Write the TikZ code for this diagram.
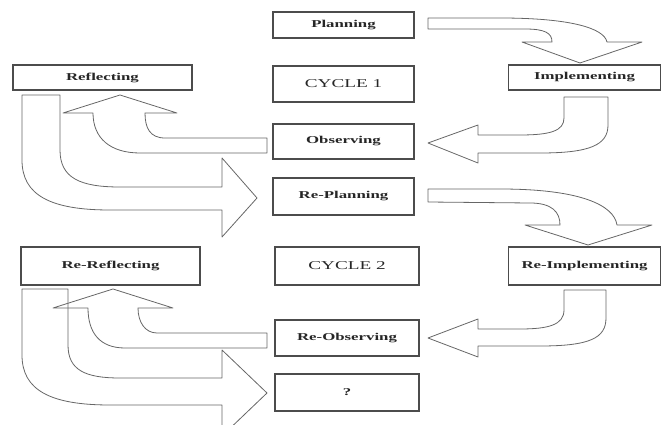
\documentclass[tikz,border=0pt]{standalone}
\usepackage{fontspec}
\setmainfont{Liberation Serif}
\newcommand{\wide}[1]{\scalebox{1.6}[1]{#1}}

\begin{document}
\begin{tikzpicture}[x=1pt, y=-1pt,
    stage/.style={draw=black!70, line width=1.1pt, inner sep=0pt, outer sep=0pt,
      font=\bfseries\fontsize{10.5}{12}\selectfont, text=black!85},
    cyclebox/.style={stage, font=\fontsize{12}{14}\selectfont},
    bigarrow/.style={draw=black!60, line width=0.8pt, line join=round}]
  \useasboundingbox (0,0) rectangle (662,425);

  % Cycle 1
  \node[stage, minimum width=141pt, minimum height=26pt] (plan) at (343.5,25) {\wide{Planning}};
  \node[cyclebox, minimum width=141pt, minimum height=36pt] (cyc1) at (343.5,84) {\wide{CYCLE 1}};
  \node[stage, minimum width=141pt, minimum height=35pt] (obs) at (343.5,141.5) {\wide{Observing}};
  \node[stage, minimum width=179pt, minimum height=25pt] (refl) at (102.5,77.5) {\wide{Reflecting}};
  \node[stage, minimum width=152pt, minimum height=25pt] (impl) at (584.5,77.5) {\wide{Implementing}};

  % Cycle 2
  \node[stage, minimum width=141pt, minimum height=37pt] (replan) at (343.5,196.5) {\wide{Re-Planning}};
  \node[cyclebox, minimum width=144pt, minimum height=38pt] (cyc2) at (347,266) {\wide{CYCLE 2}};
  \node[stage, minimum width=144pt, minimum height=36pt] (reobs) at (347,338) {\wide{Re-Observing}};
  \node[stage, minimum width=179pt, minimum height=38pt] (rerefl) at (110.5,266) {\wide{Re-Reflecting}};
  \node[stage, minimum width=152pt, minimum height=38pt] (reimpl) at (584.5,266) {\wide{Re-Implementing}};
  \node[stage, minimum width=144pt, minimum height=37pt] (next) at (347,392.5) {\wide{?}};

  % Block arrows, cycle 1
  \draw[bigarrow] (428,18) -- (500,18) .. controls (570,18) and (604,28) .. (607,42)
    -- (642,42) -- (580,63) -- (522,42) -- (552,42)
    .. controls (552,33) and (545,29) .. (525,29) -- (428,29) -- cycle;
  \draw[bigarrow] (564,97) -- (564,118) .. controls (564,131) and (550,135) .. (520,135)
    -- (478,135) -- (478,125) -- (428,143) -- (478,163) -- (478,153) -- (540,153)
    .. controls (590,153) and (608,145) .. (608,125) -- (608,97) -- cycle;
  \draw[bigarrow] (267,138) -- (165,138) .. controls (150,138) and (145,128) .. (145,113)
    -- (177,113) -- (120,95) -- (63,113) -- (93,113)
    .. controls (93,138) and (110,153) .. (140,153) -- (267,153) -- cycle;
  \draw[bigarrow] (60,95) -- (60,150) .. controls (60,178) and (80,187) .. (120,187)
    -- (222,187) -- (222,158) -- (257,198) -- (222,237) -- (222,210) -- (110,210)
    .. controls (50,210) and (22,195) .. (22,160) -- (22,95) -- cycle;

  % Block arrows, cycle 2
  \draw[bigarrow] (428,189) -- (500,189) .. controls (580,189) and (614,205) .. (617,225)
    -- (652,225) -- (588,245) -- (525,225) -- (560,225)
    .. controls (560,212) and (552,203) .. (530,203) -- (428,202) -- cycle;
  \draw[bigarrow] (564,290) -- (564,310) .. controls (564,325) and (548,329) .. (520,329)
    -- (478,329) -- (478,319) -- (428,338) -- (478,357) -- (478,346) -- (540,346)
    .. controls (590,346) and (606,338) .. (606,318) -- (606,290) -- cycle;
  \draw[bigarrow] (267,333) -- (157,333) .. controls (145,333) and (138,322) .. (138,308)
    -- (173,308) -- (113,289) -- (53,308) -- (88,308)
    .. controls (88,333) and (100,348) .. (125,348) -- (267,348) -- cycle;
  \draw[bigarrow] (68,289) -- (68,345) .. controls (68,370) and (85,378) .. (120,378)
    -- (222,378) -- (222,350) -- (267,393) -- (222,436) -- (222,405) -- (110,405)
    .. controls (50,405) and (22,390) .. (22,355) -- (22,289) -- cycle;
\end{tikzpicture}
\end{document}
